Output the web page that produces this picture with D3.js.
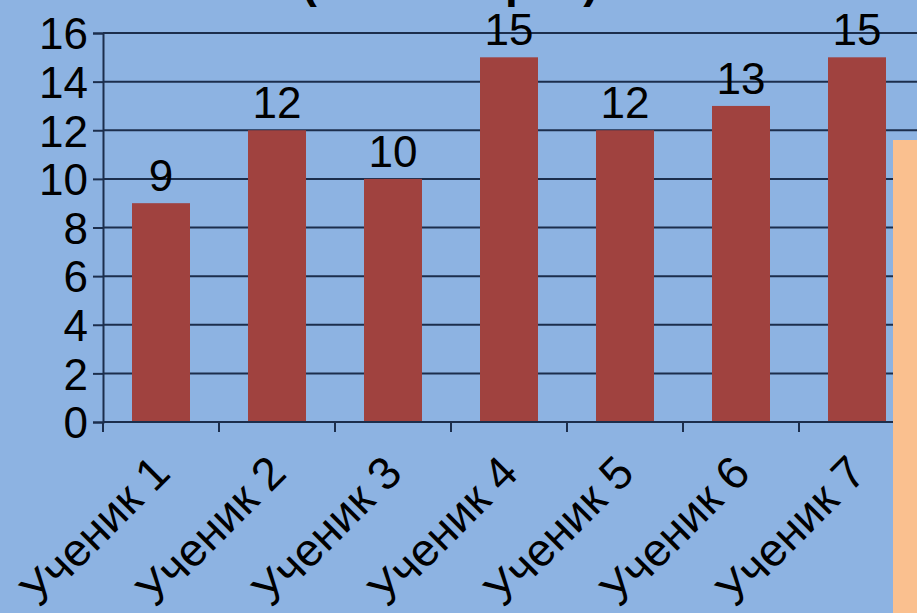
<!DOCTYPE html>
<html>
<head>
<meta charset="utf-8">
<script src="https://cdn.jsdelivr.net/npm/d3@7"></script>
<style>
  html, body { margin: 0; padding: 0; background: #8db3e2; }
  svg { display: block; }
  text { font-family: "Liberation Sans", Arial, sans-serif; fill: #000; }
</style>
</head>
<body>
<div id="chart"></div>
<script>
var categories = ["Ученик 1", "Ученик 2", "Ученик 3", "Ученик 4", "Ученик 5", "Ученик 6", "Ученик 7"];
var values = [9, 12, 10, 15, 12, 13, 15];
var yTicks = [0, 2, 4, 6, 8, 10, 12, 14, 16];
var titleText = "(за четверть)";

var width = 917, height = 613;
var plotLeft = 103, plotRight = 915, plotTop = 33, plotBottom = 422;

var svg = d3.select("#chart").append("svg")
    .attr("width", width)
    .attr("height", height);

svg.append("rect")
    .attr("width", width)
    .attr("height", height)
    .attr("fill", "#8db3e2");

var x = d3.scaleBand()
    .domain(categories)
    .range([plotLeft, plotRight])
    .paddingInner(0.5)
    .paddingOuter(0.25);

var y = d3.scaleLinear()
    .domain([0, 16])
    .range([plotBottom, plotTop]);

// title, mostly cut off at the top
svg.append("text")
    .attr("x", 450)
    .attr("y", -3)
    .attr("text-anchor", "middle")
    .style("font-size", "46px")
    .style("font-weight", "bold")
    .text(titleText);

// grid lines
svg.append("g").selectAll("line")
    .data(yTicks.filter(function (d) { return d > 0; }))
    .enter().append("line")
    .attr("x1", plotLeft)
    .attr("x2", width)
    .attr("y1", function (d) { return y(d); })
    .attr("y2", function (d) { return y(d); })
    .attr("stroke", "#1c2e4c")
    .attr("stroke-width", 2);

// y axis
var yAxis = svg.append("g")
    .attr("transform", "translate(" + plotLeft + ",0)")
    .call(d3.axisLeft(y).tickValues(yTicks).tickSize(10).tickPadding(5));
yAxis.select(".domain").attr("stroke", "#1c2e4c").attr("stroke-width", 2);
yAxis.selectAll(".tick line").attr("stroke", "#1c2e4c").attr("stroke-width", 2);
yAxis.selectAll(".tick text")
    .attr("fill", "#000")
    .attr("dy", "0.36em")
    .style("font-size", "44px")
    .style("font-family", "Liberation Sans, Arial, sans-serif");

// bars
svg.append("g").selectAll("rect")
    .data(values)
    .enter().append("rect")
    .attr("x", function (d, i) { return x(categories[i]); })
    .attr("y", function (d) { return y(d); })
    .attr("width", x.bandwidth())
    .attr("height", function (d) { return y(0) - y(d); })
    .attr("fill", "#a0423f");

// value labels
svg.append("g").selectAll("text")
    .data(values)
    .enter().append("text")
    .attr("x", function (d, i) { return x(categories[i]) + x.bandwidth() / 2; })
    .attr("y", function (d) { return y(d) - 12; })
    .attr("text-anchor", "middle")
    .style("font-size", "44px")
    .text(function (d) { return d; });

// x axis
var step = x.step();
var bounds = d3.range(categories.length + 1);
svg.append("line")
    .attr("x1", plotLeft)
    .attr("x2", width)
    .attr("y1", y(0))
    .attr("y2", y(0))
    .attr("stroke", "#1c2e4c")
    .attr("stroke-width", 2);
svg.append("g").selectAll("line")
    .data(bounds)
    .enter().append("line")
    .attr("x1", function (d) { return plotLeft + d * step; })
    .attr("x2", function (d) { return plotLeft + d * step; })
    .attr("y1", y(0))
    .attr("y2", y(0) + 10)
    .attr("stroke", "#1c2e4c")
    .attr("stroke-width", 2);

svg.append("g").selectAll("text")
    .data(categories)
    .enter().append("text")
    .attr("transform", function (d) {
        return "translate(" + (x(d) + x.bandwidth() / 2) + "," + (y(0) + 42) + ") rotate(-45)";
    })
    .attr("text-anchor", "end")
    .attr("dy", "0.35em")
    .style("font-size", "46px")
    .text(function (d) { return d; });

// orange box overlapping on the right
svg.append("rect")
    .attr("x", 893)
    .attr("y", 140)
    .attr("width", width - 893)
    .attr("height", height - 140)
    .attr("fill", "#fac08f");
</script>
</body>
</html>
